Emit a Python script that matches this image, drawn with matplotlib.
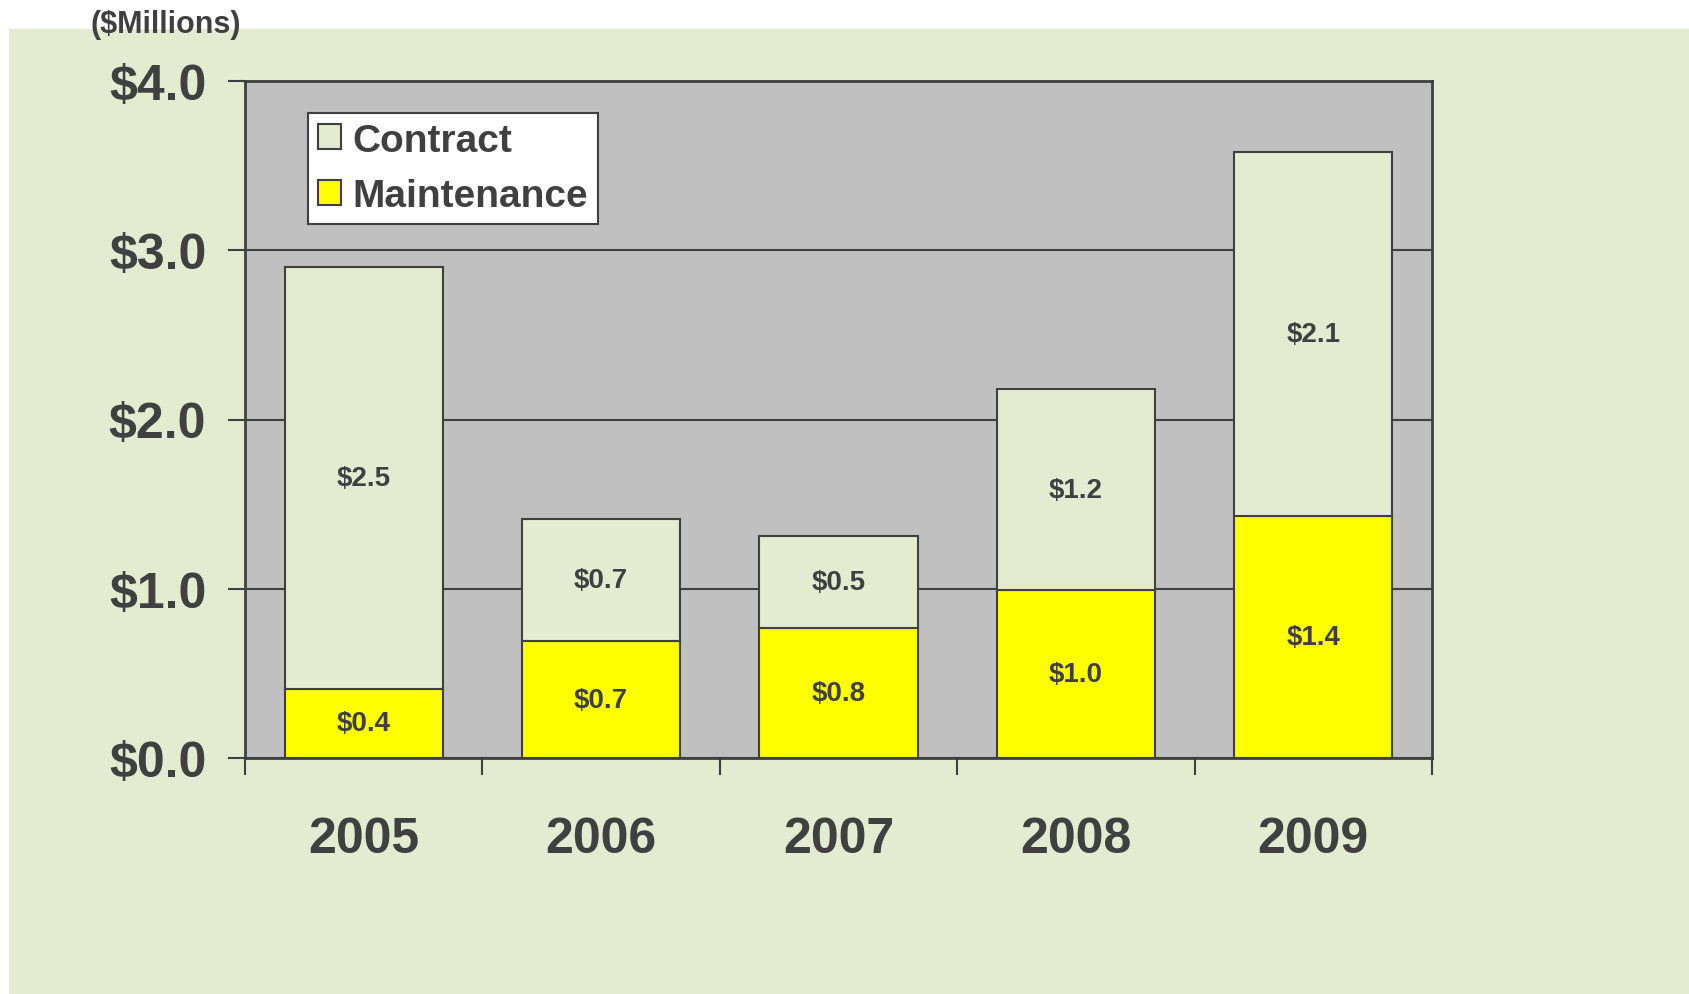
import matplotlib
matplotlib.use("Agg")
import matplotlib.pyplot as plt
from matplotlib.patches import Rectangle
import numpy as np

years = ["2005", "2006", "2007", "2008", "2009"]
maintenance = [0.41, 0.69, 0.77, 0.99, 1.43]
contract = [2.49, 0.72, 0.54, 1.19, 2.15]
maint_labels = ["$0.4", "$0.7", "$0.8", "$1.0", "$1.4"]
contract_labels = ["$2.5", "$0.7", "$0.5", "$1.2", "$2.1"]
ytick_vals = [0.0, 1.0, 2.0, 3.0, 4.0]
ytick_labels = ["$0.0", "$1.0", "$2.0", "$3.0", "$4.0"]

TXT = "#404040"
GREEN = "#e4ebd1"
YELLOW = "#ffff00"
GRAY = "#c0c0c0"

plt.rcParams['font.family'] = ['Liberation Sans', 'DejaVu Sans']
plt.rcParams['font.weight'] = 'bold'

W, H = 1690, 995
fig = plt.figure(figsize=(W / 100, H / 100), dpi=100, facecolor="white")
fig.patches.append(Rectangle((9 / W, 0), 1 - 9 / W, (H - 30) / H,
                             transform=fig.transFigure, facecolor=GREEN,
                             edgecolor="none", zorder=-10))

left, right, top, bottom = 245, 1432, 82, 759
ax = fig.add_axes([left / W, 1 - bottom / H, (right - left) / W, (bottom - top) / H])
ax.set_zorder(1)
ax.set_facecolor(GRAY)

x = np.arange(len(years))
bw = 0.666
b1 = ax.bar(x, maintenance, bw, color=YELLOW, edgecolor=TXT, linewidth=1.5,
            label="Maintenance", zorder=3)
b2 = ax.bar(x, contract, bw, bottom=maintenance, color=GREEN, edgecolor=TXT,
            linewidth=1.5, label="Contract", zorder=3)

for i in range(len(years)):
    ax.text(x[i], maintenance[i] / 2, maint_labels[i], ha="center", va="center",
            fontsize=20, fontweight="bold", color=TXT, zorder=4)
    ax.text(x[i], maintenance[i] + contract[i] / 2, contract_labels[i], ha="center",
            va="center", fontsize=20, fontweight="bold", color=TXT, zorder=4)

ax.set_xlim(-0.5, len(years) - 0.5)
ax.set_ylim(0, 4.0)
ax.set_yticks(ytick_vals)
ax.set_yticklabels(ytick_labels)
ax.yaxis.grid(True, color=TXT, linewidth=1.5, zorder=1)
ax.set_axisbelow(True)

ax.set_xticks(x)
ax.set_xticklabels(years)
ax.set_xticks(np.arange(-0.5, len(years)), minor=True)
ax.tick_params(axis="x", which="major", length=0, pad=42, labelsize=36,
               labelcolor=TXT)
ax.tick_params(axis="x", which="minor", length=12, width=1.5, color=TXT,
               direction="out")
ax.tick_params(axis="y", which="major", length=12, width=1.5, color=TXT,
               direction="out", pad=16, labelsize=36, labelcolor=TXT)
for lab in ax.get_xticklabels() + ax.get_yticklabels():
    lab.set_fontweight("bold")

for s in ax.spines.values():
    s.set_color(TXT)
    s.set_linewidth(2)

fig.text(166 / W, 1 - 25 / H, "($Millions)", ha="center", va="center",
         fontsize=22, fontweight="bold", color=TXT)

leg = ax.legend(handles=[b2, b1], labels=["Contract", "Maintenance"],
                loc="upper left", bbox_to_anchor=(0.053, 0.953),
                borderaxespad=0, fancybox=False, framealpha=1,
                edgecolor=TXT, fontsize=28, handlelength=0.6,
                handleheight=0.6, handletextpad=0.3, labelspacing=0.5,
                borderpad=0.25)
leg.get_frame().set_linewidth(1.5)
for t in leg.get_texts():
    t.set_color(TXT)
    t.set_fontweight("bold")

fig.savefig("out.png", dpi=100, facecolor="white")
